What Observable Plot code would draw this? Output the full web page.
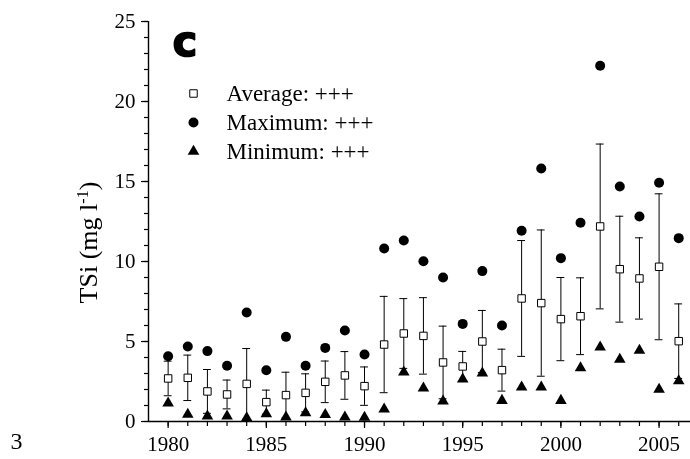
<!DOCTYPE html>
<html><head><meta charset="utf-8">
<script src="https://cdn.jsdelivr.net/npm/d3@7"></script>
<script src="https://cdn.jsdelivr.net/npm/@observablehq/plot@0.6"></script>
<style>
html,body{margin:0;padding:0;background:#fff;}
#chart svg{will-change:transform;}
#chart svg text{font-family:"Liberation Serif","Times New Roman",serif !important;}
#chart svg g.panel text{font-family:"DejaVu Sans",sans-serif !important;}
</style>
</head><body><div id="chart"></div>
<script>
const years = [1980,1981,1982,1983,1984,1985,1986,1987,1988,1989,1990,1991,1992,1993,1994,1995,1996,1997,1998,1999,2000,2001,2002,2003,2004,2005,2006];
const average = [2.69,2.73,1.88,1.69,2.35,1.21,1.65,1.79,2.48,2.88,2.21,4.81,5.50,5.35,3.69,3.44,5.00,3.21,7.69,7.40,6.40,6.58,12.19,9.52,8.94,9.67,5.02];
const sd      = [1.08,1.42,1.37,0.90,2.21,0.75,1.43,1.19,1.30,1.49,1.20,3.01,2.18,2.39,2.27,0.94,1.94,1.31,3.62,4.57,2.60,2.40,5.15,3.31,2.54,4.56,2.33];
const maximum = [4.08,4.69,4.40,3.48,6.81,3.20,5.29,3.48,4.60,5.69,4.19,10.81,11.31,10.02,9.00,6.10,9.40,6.00,11.92,15.81,10.21,12.42,22.23,14.69,12.81,14.92,11.46];
const minimum = [1.15,0.44,0.33,0.33,0.23,0.48,0.27,0.54,0.42,0.27,0.25,0.77,3.08,2.08,1.27,2.65,3.02,1.31,2.15,2.15,1.31,3.35,4.65,3.88,4.44,2.00,2.54];
const xTicks = [1980,1985,1990,1995,2000,2005];
const yTicks = [0,5,10,15,20,25];
const yMinorTicks = [0,1,2,3,4,5,6,7,8,9,10,11,12,13,14,15,16,17,18,19,20,21,22,23,24,25];
const legendLabels = ["Average: +++","Maximum: +++","Minimum: +++"];
const panelLabel = "c";
const yLabel = "TSi (mg l-1)";
const cornerLabel = "3";

const data = years.map((year, i) => ({
  year, avg: average[i], lo: average[i] - sd[i], hi: average[i] + sd[i],
  max: maximum[i], min: minimum[i]
}));

const legendSymbols = [
  {symbol: "square", r: 4.2, fill: "white", stroke: "black", strokeWidth: 1},
  {symbol: "circle", r: 5, fill: "black", stroke: null},
  {symbol: "triangle", r: 4.3, fill: "black", stroke: null}
];
const legendRows = [72, 101, 130];

const chart = Plot.plot({
  width: 690, height: 459,
  marginLeft: 148, marginRight: 0, marginTop: 21, marginBottom: 38,
  style: {fontSize: "21px", background: "white", color: "black"},
  x: {domain: [1979, 2006.6], axis: null},
  y: {domain: [0, 25], axis: null},
  marks: [
    // error bars
    Plot.ruleX(data, {x: "year", y1: "lo", y2: "hi", stroke: "black", strokeWidth: 1}),
    Plot.ruleY(data, {y: "hi", x1: d => d.year - 0.2, x2: d => d.year + 0.2, stroke: "black", strokeWidth: 1}),
    Plot.ruleY(data, {y: "lo", x1: d => d.year - 0.2, x2: d => d.year + 0.2, stroke: "black", strokeWidth: 1}),
    // points
    Plot.dot(data, {x: "year", y: "avg", symbol: "square", r: 4.2, fill: "white", stroke: "black", strokeWidth: 1}),
    Plot.dot(data, {x: "year", y: "max", symbol: "circle", r: 5, fill: "black"}),
    Plot.dot(data, {x: "year", y: "min", symbol: "triangle", r: 4.3, fill: "black"}),
    // axes
    Plot.ruleY([0], {stroke: "black", strokeWidth: 1.4}),
    Plot.ruleX([1979], {stroke: "black", strokeWidth: 1.4}),
    Plot.axisX(years, {tickSize: 5, text: null, label: null, strokeWidth: 1.2}),
    Plot.axisX(xTicks, {tickSize: 7, tickPadding: 8, label: null, strokeWidth: 1.2, tickFormat: d => String(d), fontSize: 21, fill: "black"}),
    Plot.axisY(yMinorTicks, {tickSize: 4, text: null, label: null, strokeWidth: 1.2}),
    Plot.axisY(yTicks, {tickSize: 7, tickPadding: 6, label: null, strokeWidth: 1.2, fontSize: 21, fill: "black"}),
    // legend
    ...legendSymbols.map((s, i) => Plot.dot([legendLabels[i]], {frameAnchor: "top-left", dx: 45, dy: legendRows[i], ...s})),
    ...legendLabels.map((t, i) => Plot.text([t], {frameAnchor: "top-left", dx: 78, dy: legendRows[i], text: d => d, textAnchor: "start", lineAnchor: "middle", fontSize: 23, fill: "black"})),
    // panel label
    Plot.text([panelLabel], {frameAnchor: "top-left", dx: 24, dy: 21, text: d => d, textAnchor: "start", lineAnchor: "middle", fontSize: 42, fontWeight: 900, fill: "black", stroke: "black", strokeWidth: 1.5, className: "panel"}),
    // y label
    Plot.text([yLabel], {frameAnchor: "left", dx: -60, dy: 21, text: d => d, rotate: -90, textAnchor: "middle", lineAnchor: "middle", fontSize: 26, fill: "black", className: "ylabel"}),
    // corner label
    Plot.text([cornerLabel], {frameAnchor: "bottom-left", dx: -132, dy: 20, text: d => d, textAnchor: "middle", lineAnchor: "middle", fontSize: 24, fill: "black"})
  ]
});
document.getElementById("chart").appendChild(chart);

// superscript the exponent in the y label
d3.select(chart).selectAll(".ylabel text").each(function() {
  const t = d3.select(this);
  const s = t.text();
  const m = s.match(/^(.*l)(-1)(\))$/);
  if (!m) return;
  t.text(null);
  t.append("tspan").text(m[1]);
  t.append("tspan").attr("dy", "-0.55em").attr("font-size", "0.62em").text(m[2]);
  t.append("tspan").attr("dy", "0.34em").text(m[3]);
});
</script>
</body></html>
